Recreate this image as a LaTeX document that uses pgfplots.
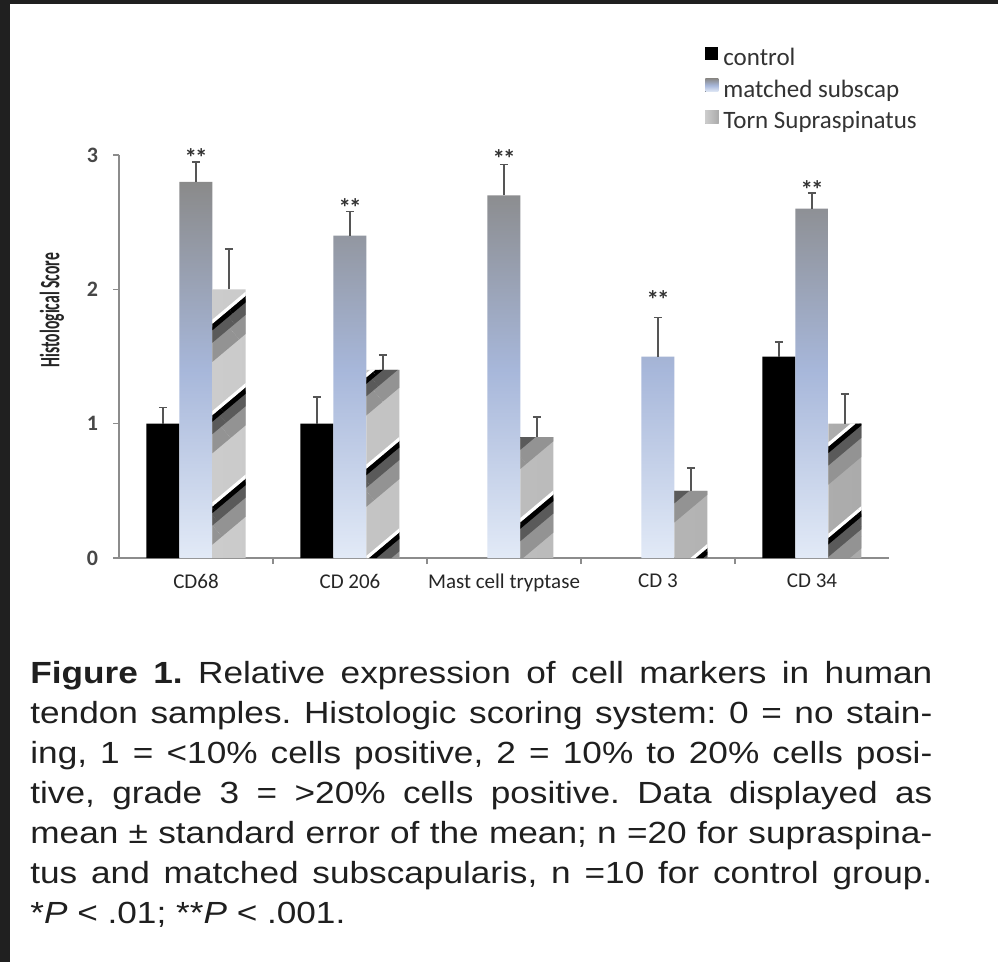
\documentclass[border=0pt]{standalone}
\usepackage{pgfplots}
\pgfplotsset{compat=1.18}
\usepackage{pgfplotstable}
\usepackage{fontspec}
\setmainfont{Carlito}
\newfontfamily\capfont{Liberation Sans}[FakeStretch=1.15]
\usetikzlibrary{patterns.meta}
\definecolor{axgray}{HTML}{8C8C8C}
\definecolor{errgray}{HTML}{555555}
\definecolor{subtop}{HTML}{8A8A8A}
\definecolor{submid}{HTML}{A7B7DA}
\definecolor{subbot}{HTML}{E2EAF7}
\definecolor{tornL}{HTML}{CCCCCC}
\definecolor{tornR}{HTML}{ABABAB}
\definecolor{tornshade}{HTML}{5A5A5A}
\definecolor{tornshadeB}{HTML}{939393}
\definecolor{framec}{HTML}{202020}
\definecolor{txt}{HTML}{333333}

\pgfplotstableread{
x y e
0 1.0 0.12
1 1.0 0.20
4 1.5 0.11
}\control
\pgfplotstableread{
x y e
0 2.8 0.15
1 2.4 0.18
2 2.7 0.23
3 1.5 0.29
4 2.6 0.12
}\subscap
\pgfplotstableread{
x y e
0 2.0 0.30
1 1.4 0.11
2 0.9 0.15
3 0.5 0.17
4 1.0 0.22
}\torn

\pgfplotsset{
  sqlegend/.style={legend image code/.code={\fill[##1] (0bp,-0.3bp) rectangle (6.5bp,6.2bp);}},
  tornlegend/.style={legend image code/.code={%
    \fill[gray!45] (0bp,-0.3bp) rectangle (6.5bp,6.2bp);
    \fill[pattern={Lines[angle=45, distance=2.8bp, line width=1bp]}, pattern color=gray!30!black] (0bp,-0.3bp) rectangle (6.5bp,6.2bp);}},
  overlay/.style={forget plot, draw=none, fill=none, error bars/y dir=none, bar shift=16.5bp},
}
\tikzset{stars/.style={anchor=base, yshift=-7bp, font=\fontsize{12.5bp}{13bp}\selectfont\bfseries, text=black!80, inner sep=0pt}}

\begin{document}
\begin{tikzpicture}
\fill[framec] (0bp,0bp) rectangle (499bp,-481bp);
\fill[white] (5bp,-2bp) rectangle (499bp,-481bp);
\begin{axis}[
  at={(59.5bp,-279bp)}, anchor=south west,
  scale only axis, width=385bp, height=201.5bp,
  xmin=-0.5, xmax=4.5, ymin=0, ymax=3,
  axis x line*=bottom, axis y line*=left,
  axis line style={axgray, line width=0.75bp},
  ybar=0pt, bar width=16.5bp,
  xtick={0.5,1.5,2.5,3.5}, xticklabels={},
  extra x ticks={0,1,2,3,4},
  extra x tick labels={CD68, CD 206, Mast cell tryptase, CD 3, CD 34},
  extra x tick style={major tick length=0pt},
  ytick={0,1,2,3},
  tick style={axgray, line width=0.75bp},
  tick align=outside, major tick length=3bp,
  /pgf/number format/assume math mode=true,
  yticklabel style={font=\fontsize{11bp}{12bp}\selectfont\bfseries, text=black!72, xshift=-4bp},
  xticklabel style={font=\fontsize{10.5bp}{12bp}\selectfont, text=black!85, yshift=-4.5bp},
  clip=false,
  legend style={at={(rel axis cs:0.761,1.268)}, anchor=north west, draw=none, fill=none,
    font=\fontsize{12.5bp}{15bp}\selectfont, text=txt, row sep=3.5bp, column sep=2.5bp,
    inner sep=0pt, nodes={inner sep=0pt, text height=9bp, text depth=3bp}},
  legend cell align=left,
  error bars/y dir=plus, error bars/y explicit,
  error bars/error bar style={draw=errgray, line width=0.9bp},
  error bars/error mark options={rotate=90, draw=errgray, mark size=2bp, line width=0.9bp},
]
\addplot[fill=black, draw=none, sqlegend, bar shift=-16.5bp] table[x=x, y=y, y error=e]{\control};
\addplot[draw=none, top color=subtop, bottom color=subbot, middle color=submid, sqlegend, bar shift=0bp] table[x=x, y=y, y error=e]{\subscap};
\addplot[draw=none, left color=tornL, right color=tornR, tornlegend, bar shift=16.5bp] table[x=x, y=y, y error=e]{\torn};
\legend{control, matched subscap, Torn Supraspinatus}
% stripe overlays of the torn bars
\addplot[overlay, pattern={Lines[angle=40, distance=35bp, line width=13bp, yshift=-9bp]}, pattern color=tornshadeB] table[x=x, y=y]{\torn};
\addplot[overlay, pattern={Lines[angle=40, distance=35bp, line width=6bp, yshift=-4bp]}, pattern color=tornshade] table[x=x, y=y]{\torn};
\addplot[overlay, pattern={Lines[angle=40, distance=35bp, line width=2.6bp]}, pattern color=black] table[x=x, y=y]{\torn};
\addplot[overlay, pattern={Lines[angle=40, distance=35bp, line width=1.6bp, yshift=2.6bp]}, pattern color=white] table[x=x, y=y]{\torn};
\node[stars] at (axis cs:0,3.02) {*\kern-1bp*};
\node[stars] at (axis cs:1,2.65) {*\kern-1bp*};
\node[stars] at (axis cs:2,3.01) {*\kern-1bp*};
\node[stars] at (axis cs:3,1.96) {*\kern-1bp*};
\node[stars] at (axis cs:4,2.78) {*\kern-1bp*};
\end{axis}
\node[rotate=90, font=\fontsize{14bp}{15bp}\selectfont\bfseries, text=black!85] at (26bp,-155bp) {\scalebox{0.56}[1]{Histological Score}};
\node[anchor=north west, inner sep=0pt, text width=451bp, align=left,
  font=\capfont\fontsize{15.3bp}{20bp}\selectfont, text=black!88] at (15bp,-330.5bp) {%
\frenchspacing\spaceskip=0pt\xspaceskip=0pt\relax
\makebox[451bp][s]{\textbf{Figure 1.} Relative expression of cell markers in human}\\
\makebox[451bp][s]{tendon samples. Histologic scoring system: 0 = no stain-}\\
\makebox[451bp][s]{ing, 1 = <10\% cells positive, 2 = 10\% to 20\% cells posi-}\\
\makebox[451bp][s]{tive, grade 3 = >20\% cells positive. Data displayed as}\\
\makebox[451bp][s]{mean ± standard error of the mean; n =20 for supraspina-}\\
\makebox[451bp][s]{tus and matched subscapularis, n =10 for control group.}\\
{*}\textit{P} < .01; **\textit{P} < .001.};
\end{tikzpicture}
\end{document}
